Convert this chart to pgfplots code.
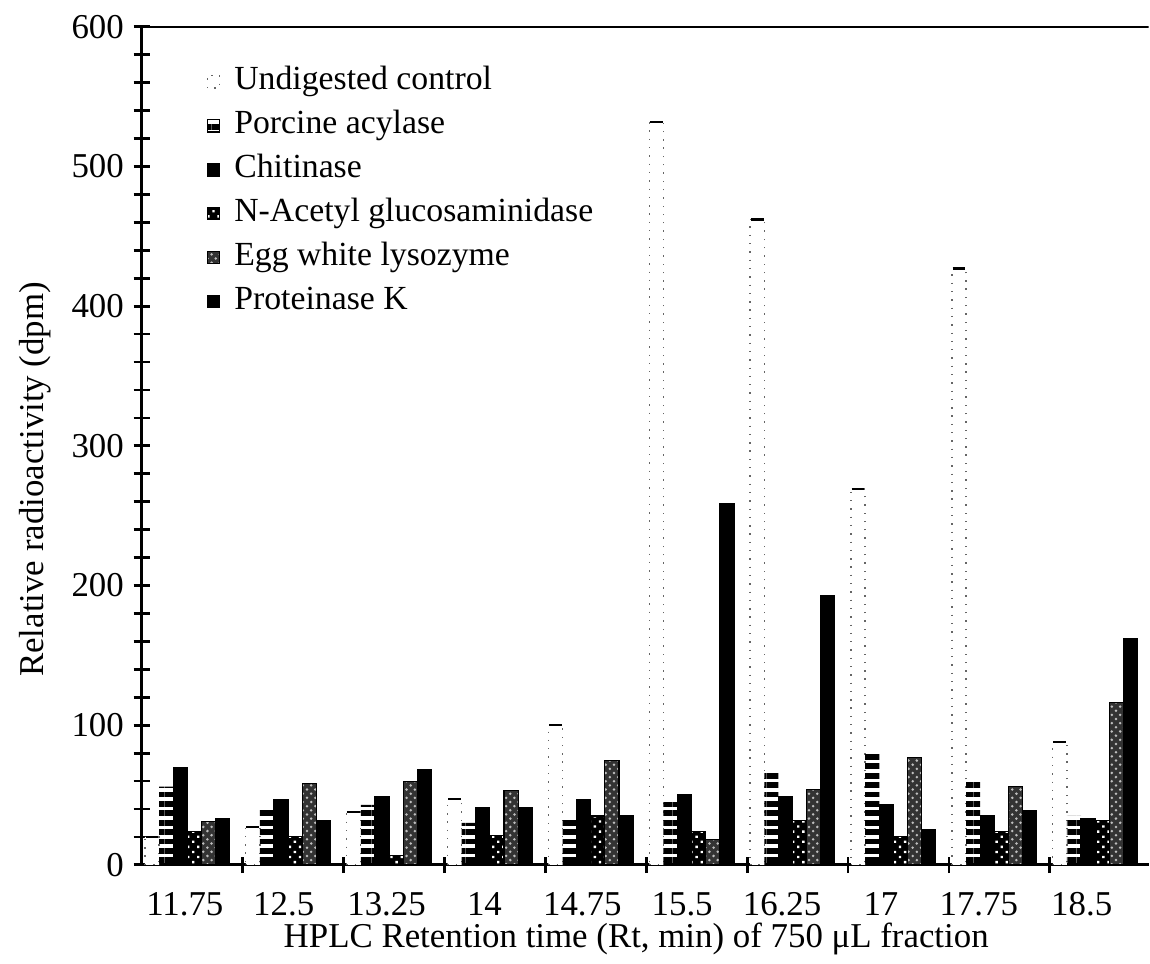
\documentclass[border=0pt]{standalone}
\usepackage{fontspec}
\setmainfont{Liberation Serif}
\usepackage{pgfplots}
\usepackage{pgfplotstable}
\pgfplotsset{compat=1.18}
\usetikzlibrary{patterns,patterns.meta}

\pgfplotstableread{
x    U   P   C   N   E   K
0.45 20  56  70  24  31  33
1.45 27  40  47  20  58  32
2.45 38  43  49  7   60  68
3.45 47  30  41  21  53  41
4.45 100 33  47  35  75  35
5.45 532 45  50  24  18  259
6.45 462 66  49  32  54  193
7.45 269 82  43  20  77  25
8.45 427 60  35  24  56  39
9.45 88  35  33  32  116 162
}\data

\begin{document}
\begin{tikzpicture}[font=\fontsize{12.6}{15}\selectfont]
\path (-51.3pt,-35.7pt) rectangle (364pt,312.7pt);
\begin{axis}[
  at={(0pt,0pt)}, anchor=south west,
  scale only axis, width=364pt, height=303pt,
  xmin=0, xmax=9.98, ymin=0, ymax=600,
  axis x line=bottom, axis y line=left,
  axis line style={-, line width=1pt},
  ybar=0pt, bar width=0.14,
  ytick={0,100,...,600}, minor y tick num=4,
  tick align=center,
  major tick length=6pt, minor tick length=6pt,
  tick style={line width=1pt, black},
  /pgf/number format/assume math mode=true,
  tick label style={font=\fontsize{12.6}{15}\selectfont},
  label style={font=\fontsize{12.6}{15}\selectfont},
  xtick={1,...,9}, xticklabels={},
  extra x ticks={0.426,1.406,2.426,3.396,4.366,5.356,6.346,7.327,8.297,9.317},
  extra x tick labels={11.75,12.5,13.25,14,14.75,15.5,16.25,17,17.75,18.5},
  extra x tick style={major tick length=0pt, tick style={draw=none}, tick label style={yshift=-6.5pt}},
  xlabel={HPLC Retention time (Rt, min) of 750 μL fraction},
  xlabel style={at={(axis description cs:0.491,-0.088)}, anchor=center},
  ylabel={Relative radioactivity (dpm)},
  ylabel style={at={(axis description cs:-0.106,0.46)}, anchor=center},
  legend image code/.code={\draw[#1] (0pt,-2.0pt) rectangle (4.4pt,2.6pt);},
  legend style={draw=none, fill=none, at={(0.0556,0.961)}, anchor=north west,
    row sep=3.7pt, font=\fontsize{12.2}{15}\selectfont,
    nodes={text height=0.75em, text depth=0.25em, inner sep=1.1pt},
    /tikz/every odd column/.append style={column sep=4pt}},
  legend cell align=left,
]
\addplot[fill=white, draw=black!60, line width=0.5pt, dash pattern=on 0.5pt off 2.5pt,
  error bars/.cd, y dir=plus, y fixed=0,
  error mark options={solid, black, line width=0.9pt, mark size=2.3pt, rotate=90}] table[x=x,y=U] {\data};
\addplot[draw=none, pattern={Lines[angle=0, distance=3.4pt, line width=2.1pt]}, pattern color=black] table[x=x,y=P] {\data};
\addplot[fill=black, draw=black] table[x=x,y=C] {\data};
\addplot[fill=black, draw=black, postaction={pattern={Dots[distance=2.6pt, radius=0.6pt, angle=45]}, pattern color=white}] table[x=x,y=N] {\data};
\addplot[fill=black!80, draw=black, postaction={pattern=crosshatch dots, pattern color=white!75!black}] table[x=x,y=E] {\data};
\addplot[fill=black, draw=black] table[x=x,y=K] {\data};
\draw[line width=1pt] (rel axis cs:0,1) -- (rel axis cs:1,1);
\legend{Undigested control, Porcine acylase, Chitinase, N-Acetyl glucosaminidase, Egg white lysozyme, Proteinase K}
\end{axis}
\end{tikzpicture}
\end{document}
